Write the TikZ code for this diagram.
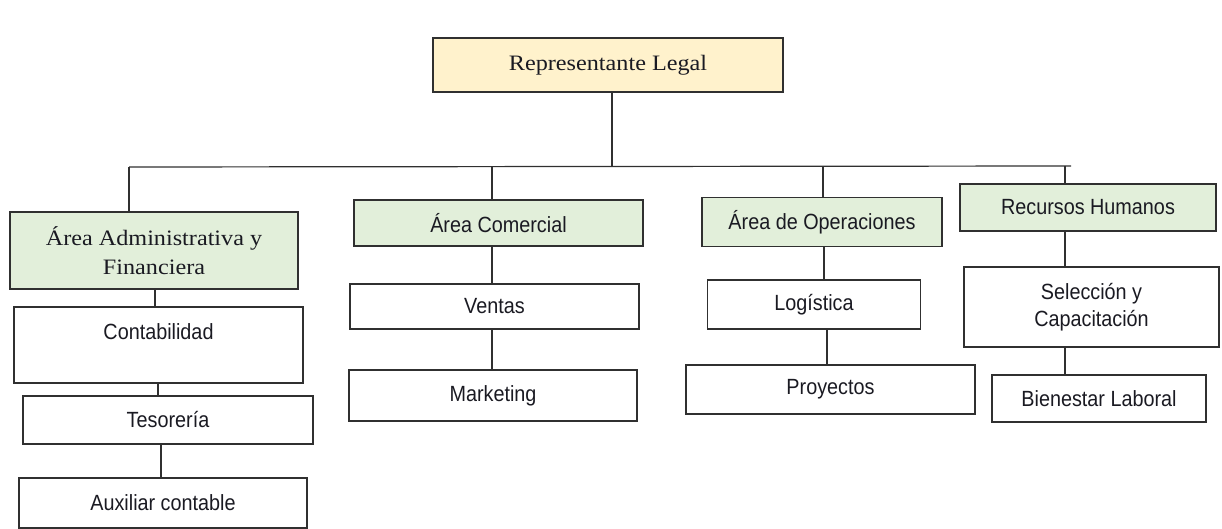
\documentclass[tikz,border=0pt]{standalone}
\usepackage{fontspec}
\setmainfont[FakeStretch=1.1]{Liberation Serif}
\newfontfamily\arialf[FakeStretch=0.9]{Liberation Sans}
\definecolor{yfill}{HTML}{FFF2CC}
\definecolor{gfill}{HTML}{E2EFDA}
\definecolor{txt}{HTML}{1A1A22}
\definecolor{lin}{HTML}{303030}
\begin{document}
\begin{tikzpicture}[x=1pt,y=-1pt,
  box/.style={draw=lin,line width=1.1pt,inner sep=0pt,text=txt,align=center},
  serifbox/.style={box,font=\fontsize{22}{29}\selectfont},
  sansbox/.style={box,font=\arialf\fontsize{22}{27}\selectfont},
  conn/.style={draw=lin,line width=1.2pt}]
\useasboundingbox (0,0) rectangle (1222,529);
% nodes
\node[serifbox,fill=yfill,minimum width=350pt,minimum height=54pt] (rep) at (608,65) {Representante Legal};
\node[serifbox,fill=gfill,minimum width=288pt,minimum height=77pt] (adm) at (154,250.5) {Área Administrativa y\\Financiera};
\node[sansbox,fill=gfill,minimum width=289pt,minimum height=46pt] (com) at (498.5,223) {Área Comercial};
\node[sansbox,fill=gfill,minimum width=240pt,minimum height=49pt] (ope) at (822,222) {Área de Operaciones};
\node[sansbox,fill=gfill,minimum width=256pt,minimum height=47pt] (rh) at (1088,207.5) {Recursos Humanos};
\node[sansbox,minimum width=289pt,minimum height=76pt] (conta) at (158.5,345) {Contabilidad\\\mbox{}};
\node[sansbox,minimum width=290pt,minimum height=48pt] (teso) at (168,420) {Tesorería};
\node[sansbox,minimum width=288pt,minimum height=50pt] (aux) at (163,503) {Auxiliar contable};
\node[sansbox,minimum width=289pt,minimum height=45pt] (ven) at (494.5,306.5) {Ventas};
\node[sansbox,minimum width=288pt,minimum height=51pt] (mkt) at (493,395.5) {Marketing};
\node[sansbox,minimum width=213.5pt,minimum height=49pt] (log) at (814,304.5) {Logística};
\node[sansbox,minimum width=289pt,minimum height=49pt] (pro) at (830.5,389.5) {Proyectos};
\node[sansbox,minimum width=255pt,minimum height=80pt] (sel) at (1091.5,307) {Selección y\\Capacitación};
\node[sansbox,minimum width=214pt,minimum height=47pt] (bie) at (1099,398.5) {Bienestar Laboral};
% bus
\coordinate (busL) at (129,167);
\coordinate (busR) at (1071,166);
\coordinate (bRep) at (612,167);
\coordinate (b1) at (129,167);
\coordinate (b2) at (492,167);
\coordinate (b3) at (823,166);
\coordinate (b4) at (1065,166);
\draw[conn] (busL) -- (busR);
\draw[conn] (rep.south -| bRep) -- (bRep);
\draw[conn] (b1) -- (b1 |- adm.north);
\draw[conn] (b2) -- (b2 |- com.north);
\draw[conn] (b3) -- (b3 |- ope.north);
\draw[conn] (b4) -- (b4 |- rh.north);
% sub connectors
\coordinate (c1) at (155,0);
\coordinate (c2) at (158,0);
\coordinate (c3) at (161,0);
\draw[conn] (adm.south -| c1) -- (conta.north -| c1);
\draw[conn] (conta.south -| c2) -- (teso.north -| c2);
\draw[conn] (teso.south -| c3) -- (aux.north -| c3);
\coordinate (c4) at (492,0);
\draw[conn] (com.south -| c4) -- (ven.north -| c4);
\draw[conn] (ven.south -| c4) -- (mkt.north -| c4);
\coordinate (c5) at (824,0);
\coordinate (c6) at (827,0);
\draw[conn] (ope.south -| c5) -- (log.north -| c5);
\draw[conn] (log.south -| c6) -- (pro.north -| c6);
\coordinate (c7) at (1065,0);
\draw[conn] (rh.south -| c7) -- (sel.north -| c7);
\draw[conn] (sel.south -| c7) -- (bie.north -| c7);
\end{tikzpicture}
\end{document}
